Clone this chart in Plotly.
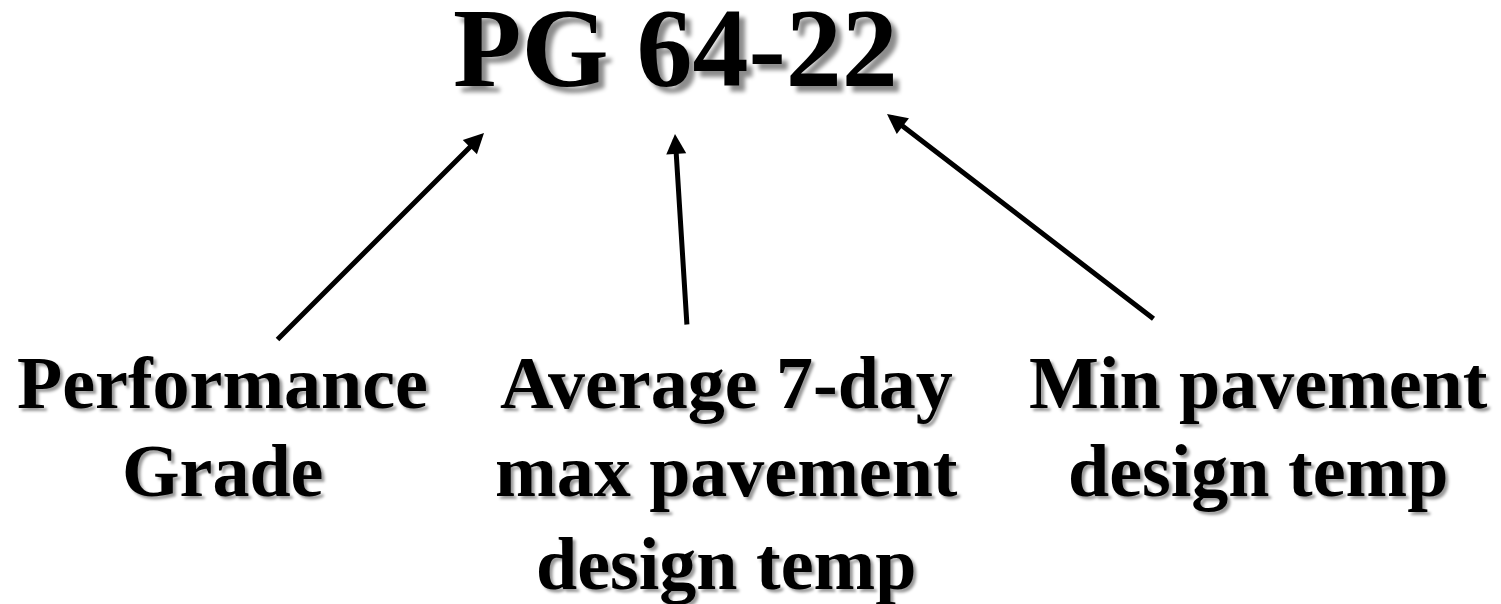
import plotly.graph_objects as go

# ---- content ----
title_text = "PG 64-22"
label_lines = [
    ["Performance", "Grade"],
    ["Average 7-day", "max pavement", "design temp"],
    ["Min pavement", "design temp"],
]
# layout positions (pixel canvas, y grows downward)
label_centers_x = [214, 718, 1250]
line_centers_y = [375, 463, 556]
title_x, title_y = 667, 40

# arrows: tail (x, y) -> tip (x, y)
arrow_tails = [(268, 333), (679, 318), (1147, 312)]
arrow_tips = [(476, 125), (667, 126), (879, 106)]

W, H = 1501, 604
fig = go.Figure()
fig.add_trace(go.Scatter(x=[0, W], y=[0, H], mode="markers",
                         marker=dict(opacity=0), hoverinfo="skip", showlegend=False))

FONT = "Liberation Serif, Times New Roman, serif"

fig.add_annotation(x=title_x, y=title_y, xref="x", yref="y", text=title_text,
                   showarrow=False, xanchor="center", yanchor="middle",
                   font=dict(family=FONT, size=112, color="black", weight="bold",
                             shadow="6px 6px 4px rgba(0,0,0,0.45)"))

for cx, lines in zip(label_centers_x, label_lines):
    for i, line in enumerate(lines):
        fig.add_annotation(x=cx, y=line_centers_y[i], xref="x", yref="y", text=line,
                           showarrow=False, xanchor="center", yanchor="middle",
                           font=dict(family=FONT, size=74, color="black", weight="bold",
                                     shadow="3px 3px 3px rgba(0,0,0,0.4)"))

for (tx, ty), (hx, hy) in zip(arrow_tails, arrow_tips):
    fig.add_annotation(x=hx, y=hy, ax=tx, ay=ty, xref="x", yref="y", axref="x", ayref="y",
                       text="", showarrow=True, arrowhead=2, arrowsize=0.8,
                       arrowwidth=5, arrowcolor="black", standoff=0, startstandoff=0)

fig.update_xaxes(range=[0, W], visible=False, fixedrange=True)
fig.update_yaxes(range=[H, 0], visible=False, fixedrange=True)
fig.update_layout(width=W, height=H, margin=dict(l=0, r=0, t=0, b=0),
                  paper_bgcolor="white", plot_bgcolor="white", showlegend=False)

fig.write_html("out.html", config={"displayModeBar": False})
